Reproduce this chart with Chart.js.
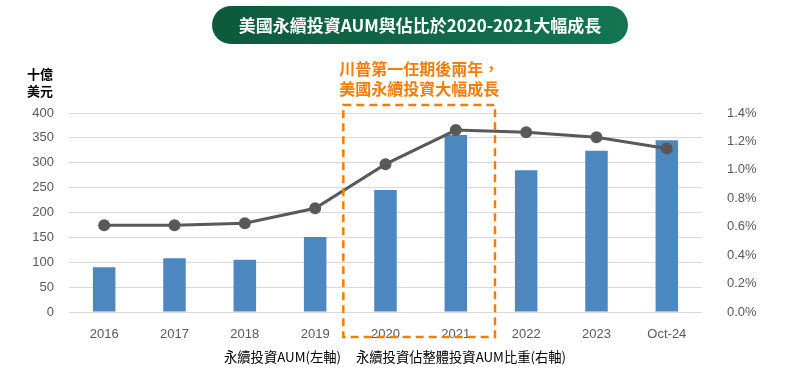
<!DOCTYPE html>
<html>
<head>
<meta charset="utf-8">
<script src="https://cdn.jsdelivr.net/npm/chart.js@4"></script>
<style>
  html, body { margin: 0; padding: 0; background: #fff; }
  #wrap { position: relative; width: 800px; height: 386px; }
</style>
</head>
<body>
<div id="wrap"><canvas id="chart" width="800" height="386"></canvas></div>
<script>
// Data
const years = ['2016', '2017', '2018', '2019', '2020', '2021', '2022', '2023', 'Oct-24'];
const aum = [90, 108, 105, 151, 245, 356, 285, 324, 345];
const share = [0.61, 0.61, 0.625, 0.73, 1.04, 1.28, 1.265, 1.23, 1.15];
const leftTicks = [0, 50, 100, 150, 200, 250, 300, 350, 400];
const rightTicks = [0, 0.2, 0.4, 0.6, 0.8, 1.0, 1.2, 1.4];
const titleText = '美國永續投資AUM與佔比於2020-2021大幅成長';
const noteLines = ['川普第一任期後兩年，', '美國永續投資大幅成長'];
const highlight = ['2020', '2021'];
const unitLines = ['十億', '美元'];

const CJK = '"Noto Sans CJK TC", "Liberation Sans", sans-serif';
const LATIN = '"Liberation Sans", Arial, sans-serif';

// Extras: title pill, unit label, note, dashed box, legend text
const extras = {
    id: 'extras',
    afterDraw(chart) {
        const ctx = chart.ctx;
        const x = chart.scales.x;
        ctx.save();

        // title pill
        const px = 212, py = 6, pw = 416, ph = 38, r = 19;
        const g = ctx.createLinearGradient(px, 0, px + pw, 0);
        g.addColorStop(0, '#0d5a3c');
        g.addColorStop(1, '#137552');
        ctx.fillStyle = g;
        ctx.beginPath();
        ctx.roundRect(px, py, pw, ph, r);
        ctx.fill();
        ctx.fillStyle = '#ffffff';
        ctx.font = 'bold 17px ' + CJK;
        ctx.textAlign = 'center';
        ctx.textBaseline = 'middle';
        ctx.fillText(titleText, px + pw / 2, py + ph / 2 + 1);

        // unit label
        ctx.fillStyle = '#000000';
        ctx.font = 'bold 13px ' + CJK;
        ctx.fillText(unitLines[0], 40, 74);
        ctx.fillText(unitLines[1], 40, 91);

        // dashed highlight box around the highlighted years
        const i0 = years.indexOf(highlight[0]);
        const i1 = years.indexOf(highlight[1]);
        const left = (x.getPixelForValue(i0 - 1) + x.getPixelForValue(i0)) / 2 - 7;
        const right = (x.getPixelForValue(i1) + x.getPixelForValue(i1 + 1)) / 2 + 4;
        ctx.strokeStyle = '#f07f0a';
        ctx.lineWidth = 2.5;
        ctx.setLineDash([8, 5]);
        ctx.strokeRect(left, 105, right - left, 232);
        ctx.setLineDash([]);

        // note
        ctx.fillStyle = '#f07f0a';
        ctx.font = 'bold 16px ' + CJK;
        const cx = (left + right) / 2;
        ctx.fillText(noteLines[0], cx, 69);
        ctx.fillText(noteLines[1], cx, 89);

        // legend text
        ctx.fillStyle = '#000000';
        ctx.font = '13.3px ' + CJK;
        ctx.textAlign = 'left';
        ctx.fillText(chart.data.datasets[1].label, 224, 357);
        ctx.fillText(chart.data.datasets[0].label, 356, 357);

        ctx.restore();
    }
};

const data = {
    labels: years,
    datasets: [{
        type: 'line',
        label: '永續投資佔整體投資AUM比重(右軸)',
        data: share,
        yAxisID: 'y1',
        borderColor: '#595959',
        backgroundColor: '#595959',
        borderWidth: 3,
        pointRadius: 4.5,
        pointHoverRadius: 4.5,
        tension: 0,
        order: 0,
    }, {
        type: 'bar',
        label: '永續投資AUM(左軸)',
        data: aum,
        yAxisID: 'y',
        backgroundColor: '#4d87bf',
        barPercentage: 0.32,
        categoryPercentage: 1.0,
        order: 1,
    }],
};

const tickFont = { family: LATIN, size: 13 };

const config = {
    data: data,
    options: {
        responsive: false,
        animation: false,
        layout: { padding: { top: 113, bottom: 44, left: 0, right: 0 } },
        plugins: {
            legend: { display: false },
            tooltip: { enabled: false },
        },
        scales: {
            x: {
                grid: { display: false },
                border: { display: false },
                ticks: { color: '#595959', font: tickFont, padding: 7 },
                afterFit(scale) { scale.height = 30; },
            },
            y: {
                position: 'left',
                min: 0,
                max: 400,
                afterBuildTicks(scale) { scale.ticks = leftTicks.map(v => ({ value: v })); },
                grid: { color: '#d9d9d9', drawTicks: false },
                border: { display: false },
                ticks: { color: '#595959', font: tickFont, padding: 15 },
                afterFit(scale) { scale.width = 69; },
            },
            y1: {
                position: 'right',
                min: 0,
                max: 1.4,
                afterBuildTicks(scale) { scale.ticks = rightTicks.map(v => ({ value: v })); },
                grid: { display: false },
                border: { display: false },
                ticks: {
                    color: '#595959', font: tickFont, padding: 17,
                    callback: v => v.toFixed(1) + '%',
                },
                afterFit(scale) { scale.width = 98; },
            },
        },
    },
    plugins: [extras],
};

const context = document.getElementById('chart').getContext('2d');
const chart = new Chart(context, config);
</script>
</body>
</html>
